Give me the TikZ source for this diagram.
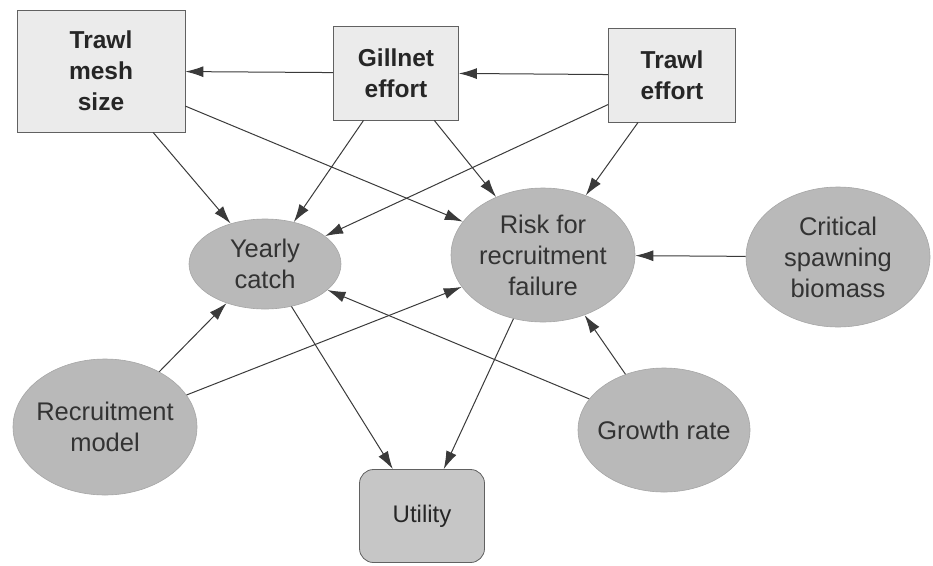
\documentclass[tikz,border=0pt]{standalone}
\usepackage{fontspec}
\setmainfont{Liberation Sans}
\usetikzlibrary{shapes.geometric,arrows.meta}
\definecolor{boxfill}{HTML}{EBEBEB}
\definecolor{ellfill}{HTML}{B9B9B9}
\definecolor{utilfill}{HTML}{C6C6C6}
\definecolor{edgecol}{HTML}{3A3A3A}
\tikzset{
  decbox/.style={rectangle, draw=edgecol!80, line width=0.8pt, fill=boxfill, align=center, inner sep=0pt,
    font=\bfseries\fontsize{24.5}{31}\selectfont, text=black!85},
  chance/.style={ellipse, draw=gray!70, line width=0.6pt, fill=ellfill, align=center,
    inner xsep=-24pt, inner ysep=-14pt,
    font=\fontsize{25.5}{31}\selectfont, text=black!80},
  utilbox/.style={rectangle, rounded corners=14pt, draw=edgecol!80, line width=0.8pt, fill=utilfill, align=center,
    inner sep=0pt, font=\fontsize{24}{29}\selectfont, text=black!85},
  link/.style={draw=edgecol, line width=1pt, -{Latex[length=18pt,width=11pt]}}
}
\begin{document}
\begin{tikzpicture}[x=1pt,y=-1pt]
\useasboundingbox (0,0) rectangle (933,565);
% decision boxes
\node[decbox, minimum width=168pt, minimum height=122pt] (mesh) at (101,71) {Trawl\\mesh\\size};
\node[decbox, minimum width=125pt, minimum height=94pt] (gill) at (396,73) {Gillnet\\effort};
\node[decbox, minimum width=127pt, minimum height=94pt] (teff) at (672,75) {Trawl\\effort};
% chance nodes
\node[chance, minimum width=152pt, minimum height=90pt] (catch) at (265,264) {Yearly\\catch};
\node[chance, minimum width=184pt, minimum height=134pt] (risk) at (543,255) {Risk for\\recruitment\\failure};
\node[chance, minimum width=184pt, minimum height=140pt] (crit) at (838,257) {Critical\\spawning\\biomass};
\node[chance, minimum width=184pt, minimum height=136pt] (recr) at (105,427) {Recruitment\\model};
\node[chance, minimum width=172pt, minimum height=124pt] (growth) at (664,430) {Growth rate};
% utility
\node[utilbox, minimum width=125pt, minimum height=93pt] (util) at (422,516) {Utility};
% links
\draw[link] (gill) -- (mesh);
\draw[link] (teff) -- (gill);
\draw[link] (mesh) -- (catch);
\draw[link] (mesh) -- (risk);
\draw[link] (gill) -- (catch);
\draw[link] (gill) -- (risk);
\draw[link] (teff) -- (risk);
\draw[link] (teff) -- (catch);
\draw[link] (crit) -- (risk);
\draw[link] (recr) -- (catch);
\draw[link] (recr) -- (risk);
\draw[link] (growth) -- (catch);
\draw[link] (growth) -- (risk);
\draw[link] (catch) -- (util);
\draw[link] (risk) -- (util);
\end{tikzpicture}
\end{document}
